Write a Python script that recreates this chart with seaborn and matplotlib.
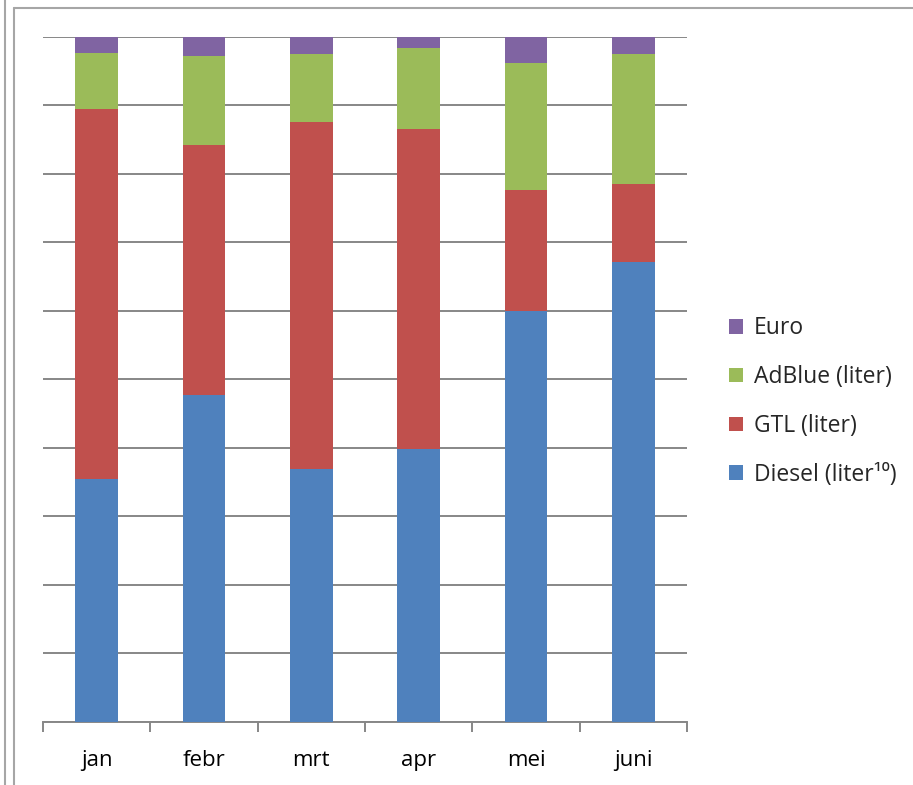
import matplotlib
matplotlib.use("Agg")
import matplotlib.pyplot as plt
from matplotlib.patches import Patch
from matplotlib.lines import Line2D
import seaborn as sns
import pandas as pd
import numpy as np

# data (shares per month, percent)
months = ["jan", "febr", "mrt", "apr", "mei", "juni"]
diesel = [35.5, 47.7, 36.9, 39.9, 60.0, 67.2]
gtl = [54.0, 36.5, 50.7, 46.7, 17.7, 11.3]
adblue = [8.2, 13.0, 9.9, 11.8, 18.5, 19.0]
euro = [2.3, 2.8, 2.5, 1.6, 3.8, 2.5]

series_names = ["Diesel (liter¹⁰)", "GTL (liter)", "AdBlue (liter)", "Euro"]
series_colors = ["#4F81BD", "#C0504D", "#9BBB59", "#8064A2"]

df = pd.DataFrame({"month": months, "Diesel": diesel, "GTL": gtl,
                   "AdBlue": adblue, "Euro": euro})
# cumulative tops, so bars can be drawn biggest first and overlaid
cum = df[["Diesel", "GTL", "AdBlue", "Euro"]].cumsum(axis=1)

sns.set_style("white")
plt.rcParams["font.family"] = ["Open Sans", "DejaVu Sans"]

fig = plt.figure(figsize=(9.13, 7.85), dpi=100)
ax = fig.add_axes([0.0471, 0.0803, 0.7054, 0.8726])

for col, color in zip(["Euro", "AdBlue", "GTL", "Diesel"], series_colors[::-1]):
    sns.barplot(x=df["month"], y=cum[col], order=months, color=color,
                width=0.40, saturation=1, linewidth=0, ax=ax, zorder=3)

ax.set_ylim(0, 100)
ax.set_xlim(-0.5, len(months) - 0.5)
ax.set_yticks(np.arange(0, 101, 10))
ax.set_yticklabels([])
ax.tick_params(axis="y", length=0)
ax.yaxis.grid(True, color="#878787", linewidth=1.4, zorder=0)
ax.set_axisbelow(True)
ax.set_xlabel("")
ax.set_ylabel("")

ax.set_xticks(range(len(months)))
ax.set_xticklabels(months, fontsize=16)
ax.tick_params(axis="x", which="major", length=0, pad=20, labelcolor="black")
ax.set_xticks(np.arange(-0.5, len(months), 1), minor=True)
ax.tick_params(axis="x", which="minor", bottom=True, length=7, width=1.4,
               color="#878787")

for s in ["top", "right", "left"]:
    ax.spines[s].set_visible(False)
ax.spines["bottom"].set_color("#878787")
ax.spines["bottom"].set_linewidth(1.4)

handles = [Patch(facecolor=c, edgecolor="none") for c in series_colors]
leg = fig.legend(handles[::-1], series_names[::-1], loc="center left",
                 bbox_to_anchor=(0.799, 0.4885), frameon=False, fontsize=16.5,
                 handlelength=0.6, handleheight=0.6, handletextpad=0.45,
                 labelspacing=1.08, borderaxespad=0, borderpad=0)

# outer frame lines of the original document
fig.add_artist(Line2D([0.005, 0.005], [0, 1], color="#a6a6a6", lw=1.5))
fig.add_artist(Line2D([0.015, 0.015], [0, 0.99], color="#a6a6a6", lw=1.5))
fig.add_artist(Line2D([0.015, 1], [0.99, 0.99], color="#a6a6a6", lw=1.5))

fig.savefig("out.png", dpi=100)
